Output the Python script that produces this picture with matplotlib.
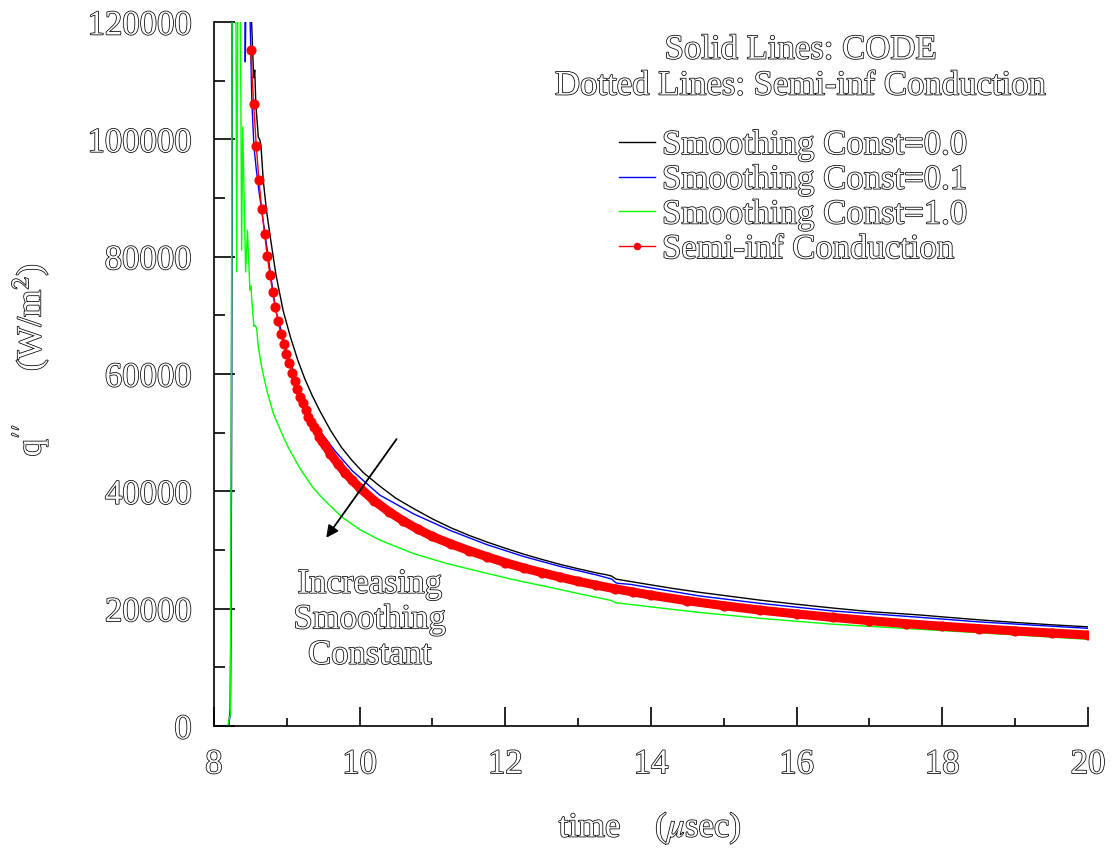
import matplotlib
matplotlib.use('Agg')
import numpy as np
import matplotlib.pyplot as plt
import matplotlib.patheffects as pe

plt.rcParams['font.family'] = ['Liberation Serif', 'DejaVu Serif']
plt.rcParams['mathtext.fontset'] = 'stix'

# Smoothing const = 0.0 (black)
t_black = [8.20, 8.225, 8.24, 8.25, 8.50, 8.517, 8.545, 8.56, 8.575, 8.609, 8.63, 8.645,
           8.677, 8.72, 8.769, 8.85, 8.95, 9.05, 9.15, 9.25, 9.35, 9.45, 9.6, 9.75, 9.9,
           10.05, 10.275, 10.5, 10.75, 11.0, 11.25, 11.5, 11.75, 12.0, 12.25, 12.5,
           12.75, 13.0, 13.25, 13.40, 13.46, 13.52, 13.56, 13.71, 14.0, 14.3,
           14.67, 15.0, 15.5, 16.0, 16.5, 17.0, 17.694, 18.0, 18.5, 19.0, 19.5, 20.0]
q_black = [0, 3000, 40000, 130000, 130000, 120000, 110500, 111800, 106000, 100400, 99900, 99000,
           93000, 88000, 83700, 77000, 70800, 66300, 62400, 59100, 56300, 53800, 50400, 47500, 45200,
           43200, 40900, 38800, 37000, 35300, 33800, 32500, 31350, 30300, 29300, 28400,
           27550, 26800, 26100, 25750, 25550, 25050, 24950, 24650, 24050, 23450,
           22780, 22250, 21450, 20750, 20100, 19500, 18920, 18600, 18100, 17650, 17250, 16900]

# Smoothing const = 0.1 (blue)
t_blue = [8.20, 8.225, 8.238, 8.25, 8.42, 8.43, 8.445, 8.48, 8.497, 8.52, 8.549, 8.58, 8.62,
          8.66, 8.70, 8.75, 8.80, 8.85, 9.0, 9.2, 9.4, 9.661, 9.9, 10.275, 10.75, 11.25,
          11.75, 12.25, 12.75, 13.25, 13.40, 13.46, 13.52, 13.56, 13.71, 14.0, 14.67, 15.5,
          16.5, 17.694, 18.5, 19.3, 20.0]
q_blue = [0, 2000, 30000, 130000, 130000, 113200, 130000, 130000, 120000, 106500, 98800, 95000, 91000,
          87500, 84000, 79500, 75000, 70800, 63800, 56500, 51200, 46900, 43500, 39370, 36100, 33300,
          30900, 28900, 27200, 25750, 25250, 25050, 24400, 24300, 24150, 23550, 22160, 20900,
          19600, 18520, 17750, 17150, 16650]

# Smoothing const = 1.0 (green)
t_green = [8.19, 8.225, 8.24, 8.25, 8.30, 8.312, 8.33, 8.36, 8.38, 8.395, 8.435, 8.46, 8.494,
           8.51, 8.518, 8.549, 8.565, 8.586, 8.608, 8.655, 8.724, 8.815, 8.952, 9.02, 9.181,
           9.35, 9.5, 9.75, 10.0, 10.275, 10.737, 11.195, 11.652, 12.11, 12.57, 13.03, 13.30,
           13.45, 13.52, 13.56, 14.0, 14.67, 15.5, 16.5, 17.694, 18.5, 19.3, 20.0]
q_green = [0, 2000, 60000, 130000, 130000, 77400, 130000, 130000, 81100, 102100, 77400, 84500, 74300,
           75000, 72900, 68100, 68300, 67800, 64700, 61200, 57300, 53300, 49300, 47500, 43900,
           40800, 38700, 35700, 33500, 31700, 29400, 27700, 26300, 24950, 23750, 22500, 21800,
           21400, 21000, 20950, 20300, 19350, 18350, 17350, 16480, 15900, 15300, 14780]

# Semi-infinite conduction (red dots)
t_semi = [8.504, 8.545, 8.581, 8.618, 8.655, 8.696, 8.732, 8.769, 8.806, 8.838, 8.879, 8.916,
          8.957, 8.993, 9.030, 9.071, 9.108, 9.144, 9.181, 9.218, 9.259, 9.295, 9.332, 9.369,
          9.410, 9.446, 9.483, 9.524, 9.6, 9.7, 9.8, 9.9, 10.0, 10.2, 10.4, 10.6, 10.8, 11.0,
          11.25, 11.5, 11.75, 12.0, 12.25, 12.5, 12.75, 13.0, 13.25, 13.5, 13.75, 14.0, 14.5,
          15.0, 15.5, 16.0, 16.5, 17.0, 17.5, 18.0, 18.5, 19.0, 19.5, 20.0]
q_semi = [115200, 106100, 98900, 93000, 88100, 83800, 80100, 76900, 74000, 71500, 69100, 66900,
          65100, 63400, 61800, 60200, 58800, 57400, 56100, 55000, 53900, 52700, 51900, 51000,
          50200, 49300, 48600, 47900, 46400, 44700, 43200, 41850, 40600, 38400, 36550, 34950, 33550, 32300,
          31050, 29900, 28850, 27850, 26950, 26150, 25380, 24650, 24000, 23400, 22850, 22300, 21350,
          20500, 19750, 19100, 18500, 17950, 17450, 17000, 16600, 16200, 15850, 15500]

outline = [pe.withStroke(linewidth=1.1, foreground='black')]
FS = 25

fig = plt.figure(figsize=(11.12, 8.52), dpi=100)
ax = fig.add_axes([0.1924, 0.1479, 0.7860, 0.8263])

ax.plot(t_black, q_black, color='black', lw=1.0, label='Smoothing Const=0.0')
ax.plot(t_blue, q_blue, color='blue', lw=1.0, label='Smoothing Const=0.1')
ax.plot(t_green, q_green, color='#00ff00', lw=1.0, label='Smoothing Const=1.0')

t_semi_arr = np.array(t_semi)
q_semi_arr = np.array(q_semi)
band = t_semi_arr >= 9.45
ax.plot(t_semi_arr[band], q_semi_arr[band], color='red', lw=6.5, solid_capstyle='round')
ax.plot(t_semi, q_semi, color='red', lw=1.0, marker='o', ms=6.3, mec='red',
        label='Semi-inf Conduction')

ax.set_xlim(8, 20)
ax.set_ylim(0, 120000)
ax.set_xticks(np.arange(8, 21, 2))
ax.set_xticks(np.arange(9, 20, 2), minor=True)
ax.set_yticks(np.arange(0, 120001, 20000))
ax.set_yticks(np.arange(10000, 120000, 20000), minor=True)
ax.tick_params(which='both', direction='in', labelsize=FS, labelcolor='white', width=1.2)
ax.tick_params(which='major', length=15, pad=16)
ax.tick_params(which='minor', length=8)
ax.tick_params(axis='x', which='major', length=14)
ax.tick_params(axis='x', which='minor', length=6)
for sp in ['top', 'right']:
    ax.spines[sp].set_visible(False)
for sp in ['left', 'bottom']:
    ax.spines[sp].set_linewidth(1.2)

for lbl in ax.get_xticklabels() + ax.get_yticklabels():
    lbl.set_path_effects(outline)

ax.set_xlabel(r'time    ($\mu$sec)', fontsize=FS, color='white', path_effects=outline)
ax.xaxis.set_label_coords(0.499, -0.118)
ax.set_ylabel(r"q$^{\prime\prime}$      (W/m$^2$)", fontsize=FS, color='white', path_effects=outline)
ax.yaxis.set_label_coords(-0.187, 0.52)

ax.text(0.6716, 0.9600, 'Solid Lines: CODE', transform=ax.transAxes, ha='center', va='center',
        fontsize=FS, color='white', path_effects=outline)
ax.text(0.6716, 0.9090, 'Dotted Lines: Semi-inf Conduction', transform=ax.transAxes, ha='center',
        va='center', fontsize=FS, color='white', path_effects=outline)

leg = ax.legend(loc='upper left', bbox_to_anchor=(0.463, 0.848), frameon=False, fontsize=FS,
                handlelength=1.05, handletextpad=0.2, labelspacing=0.05, borderpad=0,
                borderaxespad=0, numpoints=1, markerscale=0.7)
for txt in leg.get_texts():
    txt.set_color('white')
    txt.set_path_effects(outline)

ax.annotate('', xy=(9.52, 31700), xytext=(10.53, 49300),
            arrowprops=dict(arrowstyle='-|>', color='black', lw=1.3, mutation_scale=18))
ax.text(10.14, 18100, 'Increasing\nSmoothing\nConstant', ha='center', va='center', fontsize=FS,
        color='white', path_effects=outline, linespacing=1.1)

fig.savefig('out.png', dpi=100)
